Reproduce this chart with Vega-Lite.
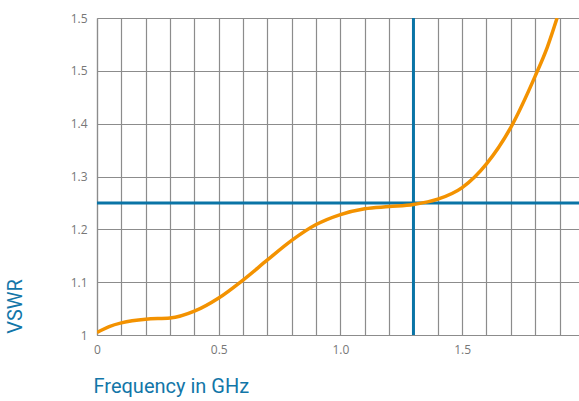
{
  "$schema": "https://vega.github.io/schema/vega-lite/v6.json",
  "width": 482,
  "height": 317,
  "autosize": {"type": "none"},
  "padding": {"left": 97, "top": 18, "right": 0, "bottom": 66},
  "background": "white",
  "config": {
    "view": {"stroke": null},
    "axis": {
      "labelFont": "Open Sans",
      "labelFontSize": 12,
      "labelColor": "#777777",
      "labelOverlap": false,
      "gridColor": "#8c8c8c",
      "gridWidth": 1.2,
      "gridOpacity": 1,
      "domainColor": "#8c8c8c",
      "domainWidth": 1.2,
      "ticks": false,
      "titleFont": "Roboto",
      "titleFontWeight": "normal",
      "titleColor": "#1276a8",
      "titleFontSize": 20
    }
  },
  "datasets": {
    "curve": [
      {"f": 0.0, "v": 1.005},
      {"f": 0.05, "v": 1.016},
      {"f": 0.1, "v": 1.023},
      {"f": 0.2, "v": 1.03},
      {"f": 0.3, "v": 1.032},
      {"f": 0.4, "v": 1.045},
      {"f": 0.5, "v": 1.07},
      {"f": 0.6, "v": 1.104},
      {"f": 0.7, "v": 1.142},
      {"f": 0.8, "v": 1.179},
      {"f": 0.9, "v": 1.209},
      {"f": 1.0, "v": 1.228},
      {"f": 1.1, "v": 1.239},
      {"f": 1.2, "v": 1.243},
      {"f": 1.3, "v": 1.247},
      {"f": 1.4, "v": 1.257},
      {"f": 1.5, "v": 1.279},
      {"f": 1.6, "v": 1.324},
      {"f": 1.7, "v": 1.393},
      {"f": 1.8, "v": 1.49},
      {"f": 1.85, "v": 1.545},
      {"f": 1.89, "v": 1.6}
    ],
    "vline": [{"f": 1.3}],
    "hline": [{"v": 1.25}]
  },
  "layer": [
    {
      "data": {"name": "curve"},
      "mark": {"type": "line", "opacity": 0},
      "encoding": {
        "x": {
          "field": "f", "type": "quantitative",
          "scale": {"domain": [0, 1.98], "nice": false, "zero": false},
          "axis": {
            "values": [0, 0.1, 0.2, 0.3, 0.4, 0.5, 0.6, 0.7, 0.8, 0.9, 1.0, 1.1, 1.2, 1.3, 1.4, 1.5, 1.6, 1.7, 1.8, 1.9],
            "tickCount": 40,
            "labelExpr": "datum.value == 0 ? '0' : (abs(datum.value * 2 - round(datum.value * 2)) < 0.001 ? format(datum.value, '.1f') : '')",
            "labelPadding": 9,
            "labelFlush": false,
            "title": "Frequency in GHz",
            "titleAnchor": "start",
            "titleAlign": "left",
            "titleX": -4,
            "titleY": 57,
            "titleBaseline": "alphabetic"
          }
        },
        "y": {
          "field": "v", "type": "quantitative",
          "scale": {"domain": [1, 1.6], "nice": false, "zero": false},
          "axis": {
            "values": [1, 1.1, 1.2, 1.3, 1.4, 1.5, 1.6],
            "tickCount": 20,
            "labelExpr": "datum.value > 1.55 ? '1.5' : format(datum.value, '.1~f')",
            "labelPadding": 10,
            "title": "VSWR",
            "titleAngle": -90,
            "titleAlign": "center",
            "titleBaseline": "middle",
            "titleX": -82,
            "titleY": 288
          }
        }
      }
    },
    {
      "data": {"name": "vline"},
      "mark": {"type": "rule", "color": "#0a74a6", "strokeWidth": 3},
      "encoding": {"x": {"field": "f", "type": "quantitative"}}
    },
    {
      "data": {"name": "hline"},
      "mark": {"type": "rule", "color": "#0a74a6", "strokeWidth": 3},
      "encoding": {"y": {"field": "v", "type": "quantitative"}}
    },
    {
      "data": {"name": "curve"},
      "mark": {"type": "line", "color": "#f39200", "strokeWidth": 3.5, "interpolate": "monotone", "clip": true},
      "encoding": {
        "x": {"field": "f", "type": "quantitative"},
        "y": {"field": "v", "type": "quantitative"}
      }
    }
  ]
}
